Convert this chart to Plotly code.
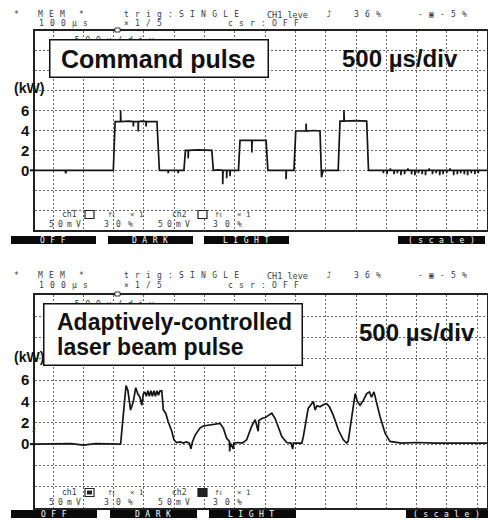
import plotly.graph_objects as go

W, H = 488, 522

# ---------------- data (time in µs, power in kW) ----------------
cmd_t = [-60, 40, 42, 44, 199, 205, 223, 223, 224, 250, 265, 265, 266, 281, 281, 282,
         296, 307, 307, 308, 330, 343, 351, 380, 380, 381, 413, 413, 414, 432, 437,
         446, 446, 447, 480, 524, 529, 545, 560, 560, 561, 573, 573, 574, 584, 584,
         585, 612, 617, 656, 656, 657, 680, 703, 709, 769, 769, 770, 795, 801, 835,
         835, 836, 860, 881, 886, 891, 941, 947, 960, 960, 961, 1000, 1035, 1041]
cmd_kw = [0, 0, -0.3, 0, 0, 4.9, 4.9, 6.0, 4.9, 4.95, 4.9, 4.4, 4.9, 4.9, 3.9, 4.9,
          4.95, 4.9, 4.4, 4.9, 4.9, 4.9, 0, 0, -0.3, 0, 0, -0.3, 0, 0, 2.0,
          2.0, 1.2, 2.0, 2.05, 2.0, 0, 0.05, 0, -1.4, 0, 0, -0.8, 0, 0, -0.6,
          0, 0, 3.0, 3.0, 1.8, 3.0, 3.0, 3.0, 0, 0, -0.9, 0, 0, 3.95, 3.95,
          4.7, 3.95, 4.0, 3.95, -0.7, 0, 0, 4.95, 4.95, 6.05, 4.95, 5.0, 4.95, 0]
cmd_end_t = 1432
tail_tick_t = [1090, 1102, 1113, 1125, 1136, 1148, 1160, 1171, 1183, 1194, 1206, 1218,
               1229, 1241, 1252, 1264, 1276, 1287, 1299, 1310, 1322, 1334, 1345, 1357,
               1368, 1380, 1392, 1403]
tail_tick_kw = [-0.3, -0.4, 0.2, -0.4, -0.3, -0.5, -0.4, 0.2, -0.4, -0.5, -0.3, -0.4,
                -0.5, 0.2, -0.4, -0.3, -0.5, -0.4, -0.3, 0.2, -0.5, -0.4, -0.3, -0.4,
                -0.5, -0.3, -0.4, -0.3]

beam_t = [-60, 60, 100, 140, 223, 230, 234, 241, 247, 256, 265, 273, 280, 287, 293, 298,
          303, 308, 313, 318, 323, 328, 333, 338, 343, 348, 353, 359, 364, 372, 380,
          392, 399, 408, 420, 430, 440, 450, 455, 460, 469, 485, 496, 510, 524, 540,
          551, 562, 573, 582, 583, 585, 595, 597, 610, 625, 639, 655, 667, 677, 679,
          689, 700, 711, 722, 733, 744, 755, 771, 785, 791, 793, 821, 826, 842, 850,
          859, 865, 871, 881, 892, 903, 912, 925, 942, 958, 969, 974, 986, 997, 1004,
          1013, 1024, 1035, 1044, 1051, 1059, 1068, 1077, 1079, 1096, 1112, 1150, 1200,
          1260, 1320, 1380, 1432]
beam_kw = [0, 0.05, -0.1, 0.05, 0, 2.4, 3.5, 5.5, 5.05, 3.2, 4.0, 5.3, 4.7, 4.4, 3.65, 4.7,
           4.9, 4.5, 5.0, 4.5, 5.0, 4.5, 5.0, 4.5, 5.0, 4.6, 5.0, 5.0, 3.2, 2.9, 2.1,
           1.2, 0.4, 0.15, 0.2, 0.1, 0.2, 0.1, -0.45, 0.2, 0.85, 1.5, 1.7, 1.75, 1.8, 1.9,
           1.95, 1.5, 0.55, 0.25, -0.7, 0.1, -0.45, 0.1, 0.15, 0.1, 0.4, 1.65, 2.3, 1.2, 2.2,
           2.4, 2.5, 2.7, 2.9, 2.4, 1.5, 0.7, 0.15, 0.1, -0.45, 0.1, 0.1, 0.7, 3.35, 3.7,
           4.0, 3.2, 3.6, 3.5, 3.7, 3.8, 3.5, 2.7, 1.3, 0.4, 0.1, 0.25, 2.4, 4.75, 4.0,
           3.65, 4.1, 4.75, 4.9, 4.4, 4.9, 3.8, 3.0, 2.6, 1.0, 0.25, 0.1, 0.15,
           0.1, 0.12, 0.1, 0.1]

grid_t = list(range(0, 1401, 100))
y_grid = [-4, -2, 0, 2, 4, 6, 8, 10, 12]
y_tick_labels = ["", "", "0", "2", "4", "6", "", "", ""]

# build command trace with tail ticks
cmd_x = list(cmd_t)
cmd_y = list(cmd_kw)
for t, v in zip(tail_tick_t, tail_tick_kw):
    cmd_x += [t, t, t + 1]
    cmd_y += [0, v, 0]
cmd_x.append(cmd_end_t)
cmd_y.append(0)


def px(x):
    return x / W


def py(y):
    return 1 - y / H


MONO = "DejaVu Sans Mono"
SANS = "Liberation Sans"
NARROW = "Liberation Sans Narrow, Liberation Sans"
GRAY = "#3a3a3a"
GRID = "#666666"

fig = go.Figure()
fig.add_trace(go.Scatter(x=cmd_x, y=cmd_y, mode="lines",
                         line=dict(color="#151515", width=1.7),
                         xaxis="x", yaxis="y", hoverinfo="skip"))
fig.add_trace(go.Scatter(x=beam_t, y=beam_kw, mode="lines",
                         line=dict(color="#151515", width=1.7),
                         xaxis="x2", yaxis="y2", hoverinfo="skip"))

xax = dict(range=[-59.4, 1432], tickvals=grid_t, showticklabels=False, ticks="",
           showgrid=True, gridcolor=GRID, griddash="2px,2px", gridwidth=1,
           showline=True, mirror=True, linecolor="#222", linewidth=1.5,
           zeroline=False, automargin=False, fixedrange=True,
           domain=[px(35), px(487)])
yax = dict(range=[-6, 14], tickvals=y_grid, ticktext=y_tick_labels, ticks="",
           tickfont=dict(family=NARROW, size=15, color="#111", weight="bold"),
           ticklabelstandoff=1,
           showgrid=True, gridcolor=GRID, griddash="2px,2px", gridwidth=1,
           showline=True, mirror=True, linecolor="#222", linewidth=1.5,
           zeroline=False, automargin=False, fixedrange=True)

shapes = []
annotations = []

panels = [
    dict(top=31, bottom=230, yref="y", hdr1=14.5, hdr2=24,
         btn_y=(236, 244), btns=[(11, 96, "OFF"), (108, 193, "DARK"),
                                 (204, 289, "LIGHT"), (398, 485, "(scale)")],
         sub="1", kw_y=88, ch1_fill="white", ch2_fill="white"),
    dict(top=295, bottom=508, yref="y2", hdr1=275.5, hdr2=285.5,
         btn_y=(510, 518), btns=[(11, 97, "OFF"), (110, 197, "DARK"),
                                 (209, 296, "LIGHT"), (406, 488, "(scale)")],
         sub="2", kw_y=357, ch1_fill="box", ch2_fill="black"),
]


def sp(s, ls):
    return '<span style="letter-spacing:%.1fpx">%s</span>' % (ls, s)


def txt(x, y, s, size=9.5, color=GRAY, family=MONO, xanchor="left", weight="normal"):
    annotations.append(dict(x=px(x), y=py(y), xref="paper", yref="paper", text=s,
                            showarrow=False, xanchor=xanchor, yanchor="middle",
                            font=dict(family=family, size=size, color=color, weight=weight)))


for p in panels:
    h1, h2 = p["hdr1"], p["hdr2"]
    for x, s in [(12, "*"), (36, "MEM"), (77, "*"), (122, "trig:SINGLE"),
                 (352, "36%"), (416, "-▣-5%")]:
        txt(x, h1, sp(s, 6.2), size=8)
    txt(325, h1, "⤴", size=8)
    txt(265, h1, "CH1 leve", size=8.5)
    for x, s in [(37, "100µs"), (122, "×1/5"), (226, "csr:OFF")]:
        txt(x, h2, sp(s, 6.2), size=8)
    # trigger marker above frame
    shapes.append(dict(type="rect", xref="paper", yref="paper",
                       x0=px(115), x1=px(120), y0=py(p["top"] + 1), y1=py(p["top"] - 3),
                       line=dict(color="#333", width=1), fillcolor="white"))
    # (kW)
    txt(29, p["kw_y"], "(kW)", size=14, color="#111", family=NARROW,
        xanchor="center", weight="bold")
    # channel subscript near the "2" tick
    zero_px = p["top"] + 7 * (p["bottom"] - p["top"]) / 10
    div_px = (p["bottom"] - p["top"]) / 10
    txt(34, zero_px - div_px + 7, p["sub"], size=6.5, color="#333", xanchor="center")
    # zero marker dash
    shapes.append(dict(type="line", xref="paper", yref=p["yref"], x0=px(30), x1=px(35),
                       y0=0, y1=0, line=dict(color="#111", width=2)))
    # bottom info rows
    r1 = p["bottom"] - 15.5
    r2 = p["bottom"] - 6
    txt(60, r1, "ch1", size=8)
    txt(106, r1, "fℓ", size=6.5)
    txt(128, r1, "× 1", size=7.5)
    txt(170, r1, "ch2", size=8)
    txt(213, r1, "fℓ", size=6.5)
    txt(235, r1, "× 1", size=7.5)
    txt(47, r2, sp("50mV", 4.2), size=8)
    txt(102, r2, sp("30%", 7.2), size=8)
    txt(156, r2, sp("50mV", 4.2), size=8)
    txt(211, r2, sp("30%", 7.2), size=8)
    # channel squares
    for (x0, x1), fill in [((85, 94), p["ch1_fill"]), ((198, 207), p["ch2_fill"])]:
        shapes.append(dict(type="rect", xref="paper", yref="paper",
                           x0=px(x0), x1=px(x1), y0=py(r1 - 4), y1=py(r1 + 4),
                           line=dict(color="#222", width=1.2),
                           fillcolor="#222" if fill == "black" else "white"))
        if fill == "box":
            shapes.append(dict(type="rect", xref="paper", yref="paper",
                               x0=px(x0 + 2), x1=px(x1 - 2), y0=py(r1 - 2), y1=py(r1 + 2),
                               line=dict(width=0), fillcolor="#222"))
    # buttons
    b0, b1 = p["btn_y"]
    for x0, x1, s in p["btns"]:
        shapes.append(dict(type="rect", xref="paper", yref="paper",
                           x0=px(x0), x1=px(x1), y0=py(b1), y1=py(b0),
                           line=dict(width=0), fillcolor="#0a0a0a"))
        txt((x0 + x1) / 2 + 2, (b0 + b1) / 2, sp(s, 5.5), size=8, color="white",
            xanchor="center")

# scale text partly hidden behind the label boxes
txt(62, 40, sp("‹500µ/div›", 5.5), size=8.5)
txt(62, 304, sp("‹500µ/div›", 5.5), size=8.5)


def box(x0, y0, x1, y1):
    annotations.append(dict(x=px(x0), y=py(y0), xref="paper", yref="paper", text=" ",
                            showarrow=False, xanchor="left", yanchor="top",
                            width=x1 - x0 - 2, height=y1 - y0 - 2, borderpad=0,
                            bgcolor="white", bordercolor="#111", borderwidth=1.5))


box(49, 39, 268, 77)
box(43, 303, 302, 365)

txt(158.5, 59, "Command pulse", size=25, color="#111", family=SANS, xanchor="center", weight="bold")
txt(55, 322, "Adaptively-controlled", size=23, color="#111", family=SANS, weight="bold")
txt(55, 347, "laser beam pulse", size=23, color="#111", family=SANS, weight="bold")
txt(400, 59, "500 µs/div", size=24, color="#111", family=SANS, xanchor="center", weight="bold")
txt(417, 332, "500 µs/div", size=24, color="#111", family=SANS, xanchor="center", weight="bold")

fig.update_layout(
    width=W, height=H, margin=dict(l=0, r=0, t=0, b=0),
    paper_bgcolor="white", plot_bgcolor="white", showlegend=False,
    xaxis=dict(xax, anchor="y"),
    yaxis=dict(yax, anchor="x", domain=[py(230), py(31)]),
    xaxis2=dict(xax, anchor="y2"),
    yaxis2=dict(yax, anchor="x2", domain=[py(508), py(295)]),
    shapes=shapes, annotations=annotations,
)

fig.write_html("out.html")
